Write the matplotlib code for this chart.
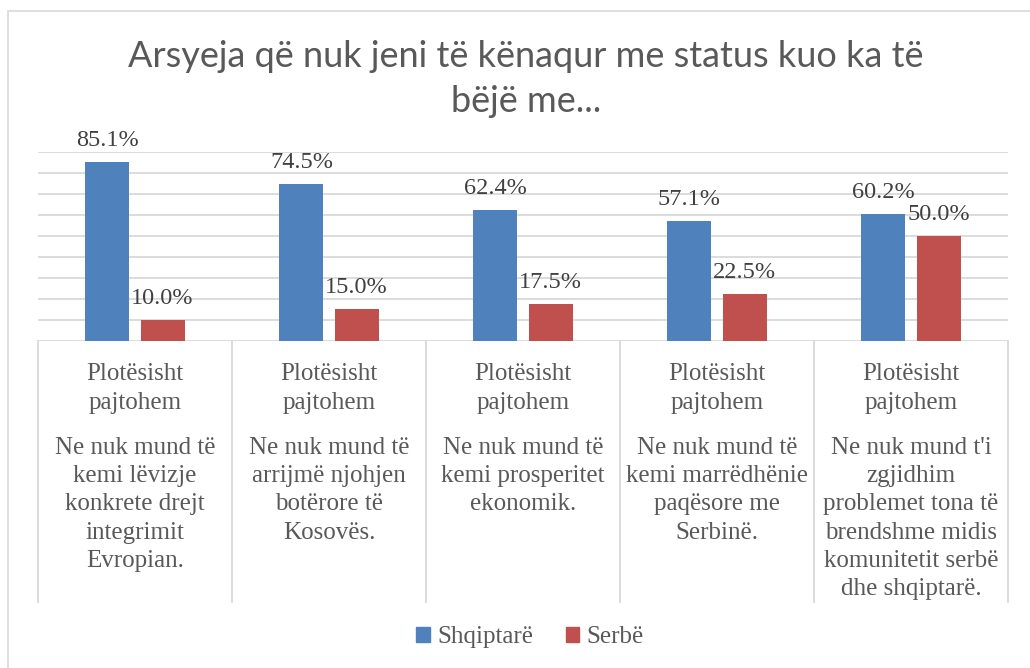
import matplotlib
matplotlib.use("Agg")
import matplotlib.pyplot as plt
from matplotlib.patches import Rectangle
import numpy as np

# data
title = "Arsyeja që nuk jeni të kënaqur me status kuo ka të\nbëjë me..."
series_names = ["Shqiptarë", "Serbë"]
shqiptare = [85.1, 74.5, 62.4, 57.1, 60.2]
serbe = [10.0, 15.0, 17.5, 22.5, 50.0]
inner_label = ["Plotësisht", "pajtohem"]
statements = [
    ["Ne nuk mund të", "kemi lëvizje", "konkrete drejt", "integrimit", "Evropian."],
    ["Ne nuk mund të", "arrijmë njohjen", "botërore të", "Kosovës."],
    ["Ne nuk mund të", "kemi prosperitet", "ekonomik."],
    ["Ne nuk mund të", "kemi marrëdhënie", "paqësore me", "Serbinë."],
    ["Ne nuk mund t'i", "zgjidhim", "problemet tona të", "brendshme midis",
     "komunitetit serbë", "dhe shqiptarë."],
]

blue = "#4F81BD"
red = "#C0504D"
grid_c = "#D9D9D9"
txt_c = "#595959"
lbl_c = "#404040"
serif = "Liberation Serif"

W, H = 1030, 668
fig = plt.figure(figsize=(W / 100, H / 100), dpi=100)

# outer chart border (right/bottom lie outside the picture)
fig.patches.append(Rectangle((8 / W, -0.1), 1.2, 1 - 11 / H + 0.1,
                             transform=fig.transFigure, fill=False,
                             edgecolor=grid_c, lw=1.2))

# plot area in pixels
x0, x1 = 38, 1008
ytop, ybase = 151.7, 341
ax = fig.add_axes([x0 / W, 1 - ybase / H, (x1 - x0) / W, (ybase - ytop) / H])
ah = ybase - ytop

def ay(py):
    return -(py - ybase) / ah

n = len(shqiptare)
x = np.arange(n)
bw = 0.227
off = 0.142
b1 = ax.bar(x - off, shqiptare, bw, color=blue, zorder=3)
b2 = ax.bar(x + off, serbe, bw, color=red, zorder=3)

for bars, vals in ((b1, shqiptare), (b2, serbe)):
    for b, v in zip(bars, vals):
        ax.annotate(f"{v:.1f}%", (b.get_x() + b.get_width() / 2, v),
                    xytext=(0, 11.5), textcoords="offset points",
                    ha="center", va="baseline", fontsize=17.5,
                    family=serif, color=lbl_c)

ax.set_xlim(-0.5, n - 0.5)
ax.set_ylim(0, 90)
ax.set_yticks(np.arange(0, 91, 10))
ax.yaxis.grid(True, color=grid_c, lw=1.3, zorder=0)
ax.tick_params(left=False, bottom=False, labelleft=False, labelbottom=False)
for s in ax.spines.values():
    s.set_visible(False)

# category axis: boxes and two-level labels
tr = ax.get_xaxis_transform()
for b in np.arange(-0.5, n, 1.0):
    ax.plot([b, b], [0, ay(601.7)], transform=tr, color=grid_c, lw=1.3,
            clip_on=False)
for i in range(n):
    for j, line in enumerate(inner_label):
        ax.text(i, ay(380 + j * 28.6), line, transform=tr, ha="center",
                va="baseline", fontsize=18, family=serif, color=txt_c)
    for j, line in enumerate(statements[i]):
        ax.text(i, ay(454 + j * 28.2), line, transform=tr, ha="center",
                va="baseline", fontsize=18, family=serif, color=txt_c)

fig.text(526 / W, 1 - 67 / H, title.split("\n")[0], ha="center",
         va="baseline", fontsize=26, family="Lato", color=txt_c)
fig.text(526 / W, 1 - 112 / H, title.split("\n")[1], ha="center",
         va="baseline", fontsize=26, family="Lato", color=txt_c)

handles = [Rectangle((0, 0), 1, 1, color=blue), Rectangle((0, 0), 1, 1, color=red)]
fig.legend(handles, series_names, loc="center", ncol=2,
           bbox_to_anchor=(530 / W, 1 - 637 / H), frameon=False,
           prop={"family": serif, "size": 18}, labelcolor=txt_c,
           handlelength=0.55, handleheight=0.55, handletextpad=0.3,
           columnspacing=1.3)

fig.savefig("out.png", dpi=100, facecolor="white")
